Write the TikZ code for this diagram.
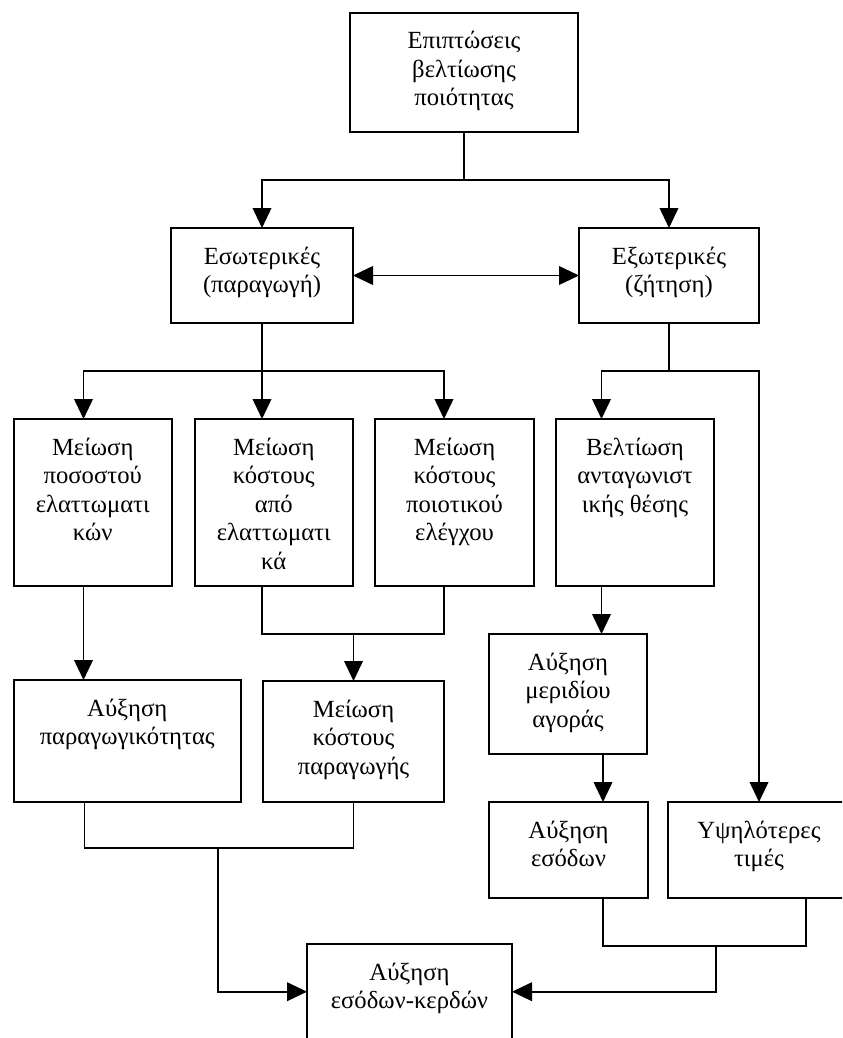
\documentclass[tikz,border=0pt]{standalone}
\usepackage{fontspec}
\setmainfont{Liberation Serif}
\usetikzlibrary{arrows.meta,calc}
\newlength\pu \setlength\pu{0.75pt}
\newcommand\mybox[6]{%
  \pgfmathsetmacro\bw{#4-#2}\pgfmathsetmacro\bh{#5-#3}%
  \node[box] (#1) at (#2,#3) {\parbox[c][\bh\pu][t]{\bw\pu}{\centering\rule{0pt}{27pt}#6\par}};}
\begin{document}
\begin{tikzpicture}[x=0.75pt,y=-0.75pt,
  box/.style={draw,line width=1.5pt,inner sep=0pt,outer sep=0pt,anchor=north west,font=\fontsize{18.5}{21.4}\selectfont},
  conn/.style={line width=1.3pt},
  arr/.style={conn,-{Triangle[length=15pt,width=14pt]}},
  darr/.style={conn,{Triangle[length=15pt,width=14pt]}-{Triangle[length=15pt,width=14pt]}}]
\useasboundingbox (0,0) rectangle (842,1038);
\clip (0,0) rectangle (842,1038);
\fill[white] (0,0) rectangle (842,1038);

\mybox{top}{350}{12.7}{578}{131.7}{Επιπτώσεις\\βελτίωσης\\ποιότητας}
\mybox{esot}{171}{228}{353}{323}{Εσωτερικές\\(παραγωγή)}
\mybox{exot}{579}{228}{759}{323}{Εξωτερικές\\(ζήτηση)}
\mybox{b1}{13.5}{419}{172}{586}{Μείωση\\ποσοστού\\ελαττωματι\\κών}
\mybox{b2}{194.5}{419}{353}{586}{Μείωση\\κόστους\\από\\ελαττωματι\\κά}
\mybox{b3}{375}{419}{534}{586}{Μείωση\\κόστους\\ποιοτικού\\ελέγχου}
\mybox{b4}{556}{419}{714}{586}{Βελτίωση\\ανταγωνιστ\\ικής θέσης}
\mybox{am}{489}{634}{647}{754}{Αύξηση\\μεριδίου\\αγοράς}
\mybox{ap}{13.5}{680}{241}{802}{Αύξηση\\παραγωγικότητας}
\mybox{mkp}{263}{681}{444}{802}{Μείωση\\κόστους\\παραγωγής}
\mybox{ae}{489}{802}{648}{898}{Αύξηση\\εσόδων}
\mybox{yt}{668}{802}{850}{898}{Υψηλότερες\\τιμές}
\mybox{fin}{307}{944}{512}{1039.4}{Αύξηση\\εσόδων-κερδών}

% top -> esot / exot
\draw[arr] (top.south) -- (464,180) -| (esot.north);
\draw[arr] (top.south) -- (464,180) -| (exot.north);
\draw[darr] (esot.east) -- (exot.west);
% esot -> b1,b2,b3
\draw[arr] (esot.south) -- (262,370.7) -| ($(b1.north west)+(70,0)$);
\draw[arr] (esot.south) -- ($(b2.north west)+(67.5,0)$);
\draw[arr] (esot.south) -- (262,370.7) -| ($(b3.north west)+(69,0)$);
% exot -> b4, yt
\draw[arr] (exot.south) -- (669,370.7) -| ($(b4.north west)+(45.5,0)$);
\draw[arr] (exot.south) -- (669,370.7) -| ($(yt.north west)+(91,0)$);
% b1 -> ap
\draw[arr] ($(b1.south west)+(70,0)$) -- ($(ap.north west)+(70,0)$);
% b2,b3 -> mkp
\draw[conn] ($(b2.south west)+(67.5,0)$) |- (353.5,634) -| ($(b3.south west)+(69,0)$);
\draw[arr] (353.5,634) -- (mkp.north);
% b4 -> am -> ae
\draw[arr] ($(b4.south west)+(45.5,0)$) -- ($(am.north west)+(112.5,0)$);
\draw[arr] ($(am.south west)+(114,0)$) -- ($(ae.north west)+(114,0)$);
% ap, mkp -> fin
\draw[conn] ($(ap.south west)+(71,0)$) |- (218,848) -| (mkp.south);
\draw[arr] (218,848) |- (fin.west);
% ae, yt -> fin
\draw[conn] ($(ae.south west)+(114,0)$) |- (716,945.7) -| ($(yt.south west)+(138,0)$);
\draw[arr] (716,945.7) |- (fin.east);
\end{tikzpicture}
\end{document}
